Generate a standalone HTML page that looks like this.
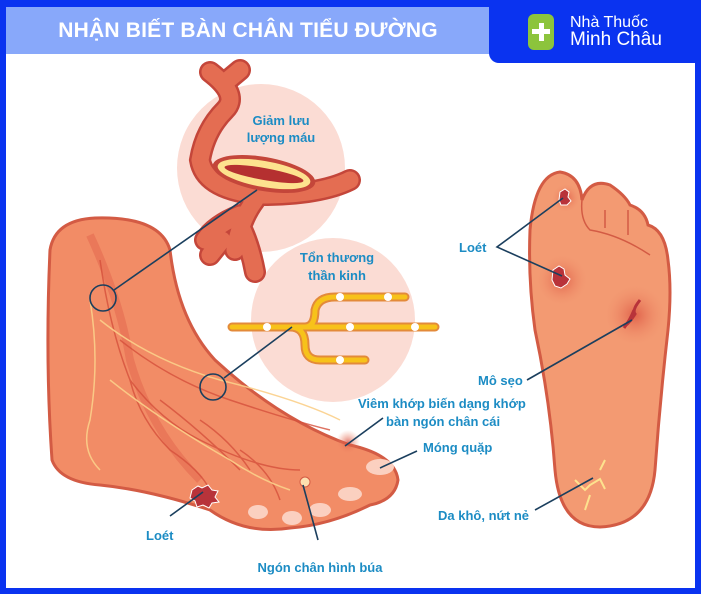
<!DOCTYPE html>
<html><head><meta charset="utf-8"><style>
html,body{margin:0;padding:0;background:#fff}
body{width:701px;height:594px;overflow:hidden;position:relative;font-family:"Liberation Sans",sans-serif}
.frame{position:absolute;left:0;top:0;width:701px;height:594px;box-sizing:border-box;border:6px solid #0a33f0;border-top-width:7px}
.banner{position:absolute;left:6px;top:7px;width:484px;height:47px;background:#88a8fa;color:#fff;font-weight:bold;font-size:21px;line-height:47px;text-align:center;letter-spacing:0.2px}
.logo{position:absolute;left:489px;top:0;width:212px;height:63px;background:#0a33f0;border-bottom-left-radius:10px}
.icon{position:absolute;left:528px;top:14px;width:26px;height:36px;background:#8cc43c;border-radius:6px}
.icon:before{content:"";position:absolute;left:11px;top:9px;width:5px;height:18px;background:#fff}
.icon:after{content:"";position:absolute;left:4px;top:15px;width:18px;height:5px;background:#fff}
.lt{position:absolute;left:570px;top:14px;color:#fff;font-size:16px;line-height:17px}
.lt b{font-size:19px;font-weight:normal}
svg{position:absolute;left:0;top:0}
.lb{font-family:"Liberation Sans",sans-serif;font-weight:bold;font-size:13px;fill:#1c8cc4}
</style></head><body>
<svg width="701" height="594" viewBox="0 0 701 594">
<defs>
<radialGradient id="rd" cx="0.5" cy="0.5" r="0.5"><stop offset="0" stop-color="#d84a3a" stop-opacity="0.7"/><stop offset="1" stop-color="#f08a68" stop-opacity="0"/></radialGradient>
</defs>
<circle cx="261" cy="168" r="84" fill="#fbdcd4"/>
<circle cx="333" cy="320" r="82" fill="#fbdcd4"/>
<g fill="none" stroke-linecap="round">
<path d="M210 72 Q240 95 225 110 Q205 130 200 160 Q205 190 260 195 Q320 195 350 180 M228 80 L240 70 M255 200 Q240 220 235 250 M240 215 Q215 225 205 240 M240 225 Q250 245 255 272 M222 240 L210 255" stroke="#c4463a" stroke-width="22"/>
<path d="M210 72 Q240 95 225 110 Q205 130 200 160 Q205 190 260 195 Q320 195 350 180 M228 80 L240 70 M255 200 Q240 220 235 250 M240 215 Q215 225 205 240 M240 225 Q250 245 255 272 M222 240 L210 255" stroke="#e46d52" stroke-width="17"/>
</g>
<ellipse cx="264" cy="174" rx="52" ry="17" fill="#c4463a" transform="rotate(10 264 174)"/>
<ellipse cx="264" cy="174" rx="47" ry="13" fill="#fde28e" transform="rotate(10 264 174)"/>
<ellipse cx="264" cy="174" rx="40" ry="6" fill="#b53030" transform="rotate(10 264 174)"/>
<g fill="none" stroke-linecap="round">
<path d="M232 327 L435 327 M290 327 Q305 327 305 345 Q305 360 320 360 L365 360 M305 327 Q315 327 315 310 Q318 297 335 297 L405 297" stroke="#e38a3a" stroke-width="9"/>
<path d="M232 327 L435 327 M290 327 Q305 327 305 345 Q305 360 320 360 L365 360 M305 327 Q315 327 315 310 Q318 297 335 297 L405 297" stroke="#f7c21a" stroke-width="5"/>
</g>
<g fill="#fff"><circle cx="267" cy="327" r="4"/><circle cx="350" cy="327" r="4"/><circle cx="340" cy="297" r="4"/><circle cx="388" cy="297" r="4"/><circle cx="415" cy="327" r="4"/><circle cx="340" cy="360" r="4"/></g>
<path d="M50 250 Q55 220 95 218 Q160 216 170 250 Q178 320 215 360 Q280 420 350 445 Q395 455 398 480 Q395 500 370 505 Q330 525 290 528 Q245 535 210 510 Q150 490 100 485 Q60 482 52 460 Q45 360 50 250 Z" fill="#f28c66" stroke="#d35b44" stroke-width="3"/>
<path d="M90 235 Q120 300 130 360 Q150 430 200 480" stroke="#e46a50" stroke-width="8" fill="none" opacity="0.6"/>
<g fill="none" stroke="#d6513c" stroke-width="1.5" opacity="0.8">
<path d="M100 260 Q110 330 130 380 Q160 420 200 440 Q260 470 300 470"/>
<path d="M120 340 Q170 380 230 400 Q290 420 330 430"/>
<path d="M130 380 Q140 420 170 450 Q200 470 210 490"/>
<path d="M160 400 Q200 430 240 470"/>
<path d="M200 420 Q230 440 250 470 M240 450 Q270 470 280 500"/>
</g>
<g fill="none" stroke="#fbd08a" stroke-width="1.5" opacity="0.9">
<path d="M90 300 Q100 360 90 420 Q80 450 100 470"/>
<path d="M100 320 Q150 360 220 380 Q300 400 340 420"/>
<path d="M110 380 Q160 420 230 460 Q260 480 290 490"/>
</g>
<g fill="#fbd0c0"><ellipse cx="380" cy="467" rx="14" ry="8"/><ellipse cx="350" cy="494" rx="12" ry="7"/><ellipse cx="320" cy="510" rx="11" ry="7"/><ellipse cx="292" cy="518" rx="10" ry="7"/><ellipse cx="258" cy="512" rx="10" ry="7"/></g>
<circle cx="348" cy="442" r="12" fill="url(#rd)"/>
<circle cx="305" cy="482" r="5" fill="#fde0b0" stroke="#d35b44"/>
<path d="M192 490 l6 -4 l4 2 l6 -3 l4 5 l6 1 l-3 6 l4 5 l-7 1 l-3 5 l-6 -3 l-6 2 l-2 -6 l-5 -3 z" fill="#b8333a" stroke="#fff" stroke-width="1"/>
<path d="M560 172 Q580 175 582 200 Q590 178 610 185 Q625 195 630 205 Q645 210 648 225 Q665 230 668 260 Q672 290 668 330 Q660 400 655 470 Q650 525 600 527 Q560 527 555 470 Q550 400 535 330 Q528 280 530 230 Q535 175 560 172 Z" fill="#f39a72" stroke="#d35b44" stroke-width="3"/>
<g stroke="#d35b44" stroke-width="1.5" fill="none"><path d="M582 200 Q580 220 590 230 Q620 235 650 255 M605 210 L605 228 M628 210 L628 235"/></g>
<circle cx="562" cy="280" r="25" fill="url(#rd)"/>
<circle cx="635" cy="315" r="30" fill="url(#rd)"/>
<circle cx="566" cy="198" r="14" fill="url(#rd)"/>
<path d="M560 192 l5 -3 l4 3 l-1 5 l3 4 l-4 4 l-6 0 l-2 -5 z" fill="#b8333a" stroke="#fff"/>
<path d="M553 270 l6 -4 l5 3 l1 6 l5 4 l-3 5 l-6 4 l-6 -2 l-3 -6 z" fill="#b8333a" stroke="#fff"/>
<path d="M640 300 q-8 10 -5 14 q-5 8 -10 12 M634 310 q-4 10 -10 18" stroke="#b8333a" stroke-width="3" fill="none"/>
<g stroke="#fde28e" stroke-width="2" fill="none"><path d="M575 480 l10 10 l5 -5 l10 -6 l5 10 M590 495 l-5 15 M600 470 l5 -10"/></g>
<g stroke="#1b3f5e" stroke-width="1.6" fill="none">
<circle cx="103" cy="298" r="13"/><line x1="114" y1="290" x2="257" y2="190"/>
<circle cx="213" cy="387" r="13"/><line x1="224" y1="378" x2="292" y2="327"/>
<line x1="170" y1="516" x2="203" y2="492"/>
<line x1="345" y1="446" x2="383" y2="418"/>
<line x1="380" y1="468" x2="417" y2="451"/>
<line x1="303" y1="485" x2="318" y2="540"/>
<polyline points="563,198 497,247 562,276"/>
<line x1="527" y1="380" x2="632" y2="320"/>
<line x1="535" y1="510" x2="593" y2="478"/>
</g>
<text class="lb" x="281" y="125" text-anchor="middle">Giảm lưu</text>
<text class="lb" x="281" y="142" text-anchor="middle">lượng máu</text>
<text class="lb" x="337" y="262" text-anchor="middle">Tổn thương</text>
<text class="lb" x="337" y="280" text-anchor="middle">thần kinh</text>
<text class="lb" x="358" y="408">Viêm khớp biến dạng khớp</text>
<text class="lb" x="386" y="426">bàn ngón chân cái</text>
<text class="lb" x="423" y="452">Móng quặp</text>
<text class="lb" x="146" y="540">Loét</text>
<text class="lb" x="320" y="572" text-anchor="middle">Ngón chân hình búa</text>
<text class="lb" x="459" y="252">Loét</text>
<text class="lb" x="478" y="385">Mô sẹo</text>
<text class="lb" x="438" y="520">Da khô, nứt nẻ</text>
</svg>
<div class="frame"></div>
<div class="banner">NHẬN BIẾT BÀN CHÂN TIỂU ĐƯỜNG</div>
<div class="logo"></div>
<div class="icon"></div>
<div class="lt">Nhà Thuốc<br><b>Minh Châu</b></div>
</body></html>
